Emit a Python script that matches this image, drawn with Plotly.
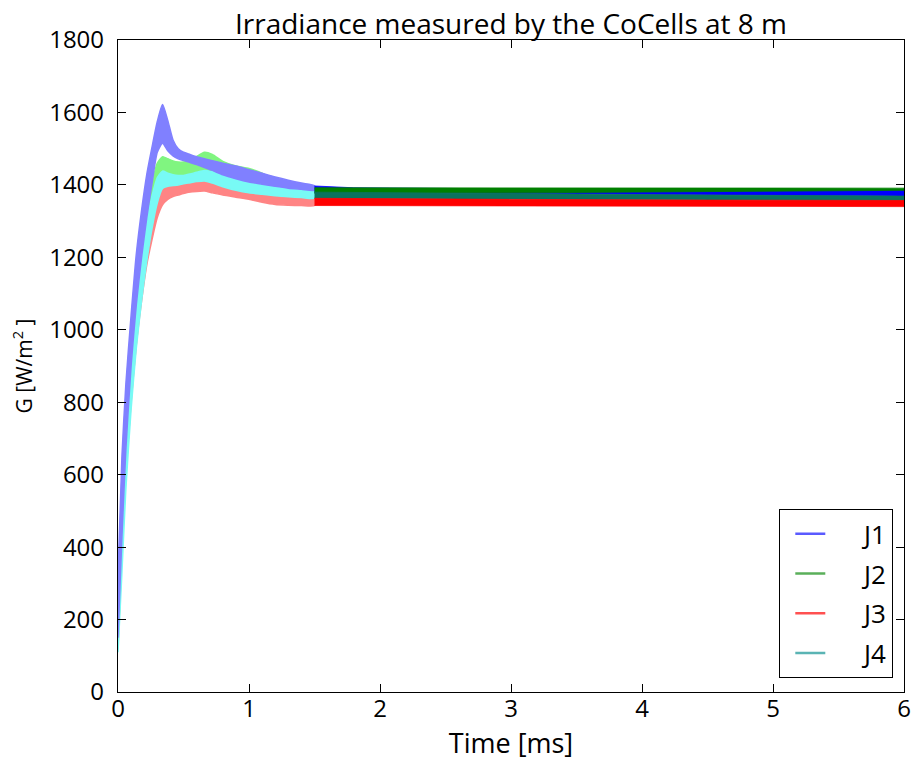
import plotly.graph_objects as go

# ---------------- data ----------------
SERIES = ["J1", "J2", "J3", "J4"]

T_EARLY = [0, 0.03, 0.06, 0.1, 0.14, 0.18, 0.22, 0.26, 0.3, 0.34, 0.38, 0.42, 0.46,
           0.5, 0.55, 0.6, 0.66, 0.72, 0.8, 0.9, 1.0, 1.1, 1.2, 1.3, 1.4, 1.5]

J1_EARLY_UPPER = [320, 650, 850, 1040, 1210, 1330, 1430, 1505, 1575, 1622, 1578, 1524, 1500,
                  1490, 1484, 1478, 1472, 1467, 1460, 1452, 1442, 1432, 1422, 1413, 1405, 1398]
J1_EARLY_LOWER = [150, 430, 670, 900, 1070, 1200, 1310, 1405, 1490, 1515, 1494, 1480, 1472,
                  1467, 1462, 1456, 1448, 1440, 1428, 1417, 1408, 1402, 1396, 1391, 1388, 1385]

J2_EARLY_UPPER = [250, 560, 760, 960, 1110, 1230, 1330, 1405, 1460, 1478, 1472, 1466, 1463,
                  1463, 1467, 1478, 1490, 1484, 1465, 1452, 1445, 1432, 1412, 1400, 1393, 1390]
J2_EARLY_LOWER = [120, 400, 630, 840, 1000, 1130, 1240, 1330, 1390, 1415, 1420, 1420, 1420,
                  1422, 1425, 1428, 1430, 1425, 1418, 1410, 1400, 1392, 1386, 1382, 1379, 1377]

J3_EARLY_UPPER = [280, 580, 760, 950, 1100, 1210, 1290, 1345, 1385, 1405, 1410, 1412, 1413,
                  1414, 1416, 1422, 1428, 1422, 1410, 1400, 1388, 1376, 1368, 1365, 1364, 1363]
J3_EARLY_LOWER = [130, 380, 600, 800, 960, 1080, 1180, 1250, 1310, 1345, 1360, 1368, 1372,
                  1376, 1380, 1382, 1383, 1378, 1372, 1366, 1360, 1352, 1346, 1344, 1343, 1343]

J4_EARLY_UPPER = [260, 560, 750, 940, 1090, 1210, 1300, 1370, 1420, 1438, 1432, 1428, 1426,
                  1426, 1430, 1435, 1440, 1436, 1428, 1420, 1412, 1405, 1398, 1392, 1386, 1382]
J4_EARLY_LOWER = [110, 330, 560, 780, 950, 1080, 1190, 1280, 1350, 1390, 1396, 1398, 1400,
                  1403, 1406, 1409, 1411, 1405, 1395, 1385, 1378, 1374, 1370, 1367, 1365, 1363]

T_LATE = [1.5, 1.8, 3.0, 4.5, 6.0]
J1_LATE_UPPER = [1397, 1392, 1389, 1388, 1387]
J1_LATE_LOWER = [1380, 1378, 1375, 1372, 1369]
J2_LATE_UPPER = [1392, 1392, 1392, 1392, 1391]
J2_LATE_LOWER = [1377, 1377, 1378, 1381, 1385]
J3_LATE_UPPER = [1363, 1362, 1360, 1358, 1357]
J3_LATE_LOWER = [1343, 1343, 1342, 1341, 1340]
J4_LATE_UPPER = [1380, 1379, 1376, 1372, 1369]
J4_LATE_LOWER = [1363, 1362, 1360, 1358, 1356]

X_TICKS = [0, 1, 2, 3, 4, 5, 6]
Y_TICKS = [0, 200, 400, 600, 800, 1000, 1200, 1400, 1600, 1800]

# ---------------- styles ----------------
EARLY_COL = {"J1": "rgb(128,128,255)", "J2": "rgb(128,245,128)",
             "J3": "rgb(255,132,132)", "J4": "rgb(120,250,245)"}
LATE_COL = {"J1": "rgb(0,0,255)", "J2": "rgb(0,128,0)",
            "J3": "rgb(255,0,0)", "J4": "rgb(10,115,95)"}
LEG_COL = {"J1": "rgb(90,90,255)", "J2": "rgb(90,175,90)",
           "J3": "rgb(255,80,80)", "J4": "rgb(90,180,180)"}

EARLY = {"J1": (J1_EARLY_UPPER, J1_EARLY_LOWER), "J2": (J2_EARLY_UPPER, J2_EARLY_LOWER),
         "J3": (J3_EARLY_UPPER, J3_EARLY_LOWER), "J4": (J4_EARLY_UPPER, J4_EARLY_LOWER)}
LATE = {"J1": (J1_LATE_UPPER, J1_LATE_LOWER), "J2": (J2_LATE_UPPER, J2_LATE_LOWER),
        "J3": (J3_LATE_UPPER, J3_LATE_LOWER), "J4": (J4_LATE_UPPER, J4_LATE_LOWER)}

FONT = "Open Sans, DejaVu Sans, sans-serif"

fig = go.Figure()


def band(t, up, lo, color, width=1.0, shape="linear"):
    line = dict(color=color, width=width, shape=shape)
    if shape == "spline":
        line["smoothing"] = 0.6
    fig.add_trace(go.Scatter(
        x=list(t) + list(t)[::-1], y=list(up) + list(lo)[::-1],
        mode="lines", fill="toself", fillcolor=color, line=line,
        hoverinfo="skip", showlegend=False))


# early (light) bundles
for s in ["J3", "J2", "J4", "J1"]:
    up, lo = EARLY[s]
    band(T_EARLY, up, lo, EARLY_COL[s], width=1.5, shape="spline")

# late (dark) bundles
for s in ["J1", "J2", "J4", "J3"]:
    up, lo = LATE[s]
    band(T_LATE, up, lo, LATE_COL[s], width=0.8)

# legend entries
for s in SERIES:
    fig.add_trace(go.Scatter(
        x=[None], y=[None], mode="lines", name="\u00a0" * 5 + s,
        legendgroup=s, line=dict(color=LEG_COL[s], width=2.5)))

axis_common = dict(
    showline=True, linecolor="black", linewidth=1.3, mirror="allticks",
    ticks="inside", ticklen=8, tickwidth=1, tickcolor="black",
    showgrid=False, zeroline=False, automargin=False,
    tickfont=dict(family=FONT, size=24, color="black"),
)

fig.update_layout(
    width=913, height=762,
    margin=dict(l=118, r=9, t=40, b=70, autoexpand=False),
    paper_bgcolor="white", plot_bgcolor="white",
    font=dict(family=FONT, color="black"),
    title=dict(text="Irradiance measured by the CoCells at 8 m",
               x=0.5, xref="paper", xanchor="center",
               y=1, yref="paper", yanchor="bottom", pad=dict(b=6),
               font=dict(family=FONT, size=28, color="black")),
    xaxis=dict(range=[0, 6], tickvals=X_TICKS, ticklabelstandoff=-5,
               title=dict(text="Time [ms]", standoff=8,
                          font=dict(family=FONT, size=27, color="black")),
               **axis_common),
    yaxis=dict(range=[0, 1800], tickvals=Y_TICKS, ticklabelstandoff=8,
               title=dict(text="G [W/m<sup>2</sup> ]", standoff=10,
                          font=dict(family=FONT, size=21, color="black")),
               **axis_common),
    legend=dict(x=(893 - 118) / 786, xanchor="right", y=14 / 652, yanchor="bottom",
                bordercolor="black", borderwidth=1.3, bgcolor="white",
                traceorder="grouped", tracegroupgap=3, indentation=10,
                font=dict(family=FONT, size=26, color="black")),
    showlegend=True,
)

fig.write_html("out.html")
